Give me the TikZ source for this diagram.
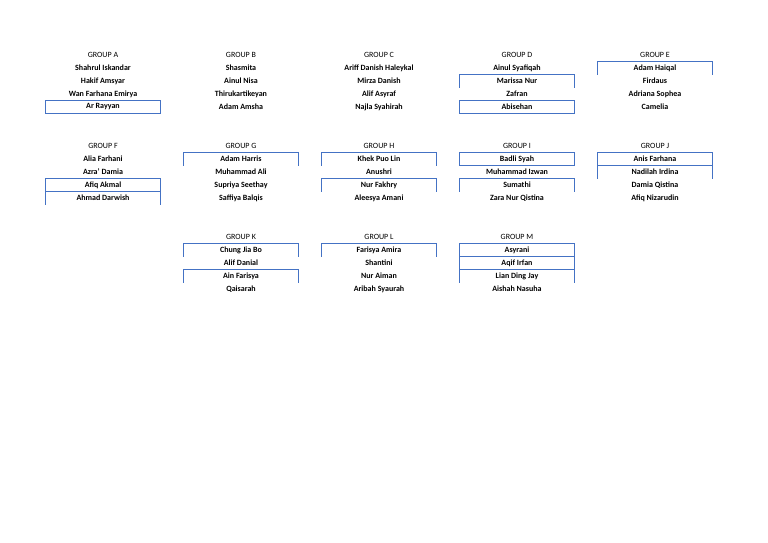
\documentclass[tikz,border=0pt]{standalone}
\usepackage{fontspec}
\setmainfont{Carlito}
\tikzset{
  group head/.style={font=\fontsize{8}{9}\selectfont, inner sep=0pt},
  name cell/.style={font=\bfseries\fontsize{8}{9}\selectfont, minimum width=115pt, minimum height=13pt, inner sep=0pt},
  cell border/.style={draw=cellblue, line width=0.8pt},
  full/.style={cell border},
}
\definecolor{cellblue}{HTML}{4472C4}
% one group: id, x, y of header, letter, four names
\newcommand{\groupcol}[8]{%
  \node[group head] (#1h) at (#2,#3) {GROUP #4};
  \node[name cell] (#11) at (#2,#3+13) {#5};
  \node[name cell] (#12) at (#2,#3+26) {#6};
  \node[name cell] (#13) at (#2,#3+39) {#7};
  \node[name cell] (#14) at (#2,#3+52) {#8};
}
\newcommand{\topsides}[1]{\draw[cell border] (#1.south west) -- (#1.north west) -- (#1.north east) -- (#1.south east);}
\newcommand{\fullbox}[1]{\draw[cell border] (#1.south west) rectangle (#1.north east);}
\newcommand{\sidesonly}[1]{\draw[cell border] (#1.south west) -- (#1.north west) (#1.north east) -- (#1.south east);}
\begin{document}
\begin{tikzpicture}[x=1pt,y=-1pt]
\useasboundingbox (0,0) rectangle (768,543);
\groupcol{a}{103}{55}{A}{Shahrul Iskandar}{Hakif Amsyar}{Wan Farhana Emirya}{Ar Rayyan}
\groupcol{b}{241}{55}{B}{Shasmita}{Ainul Nisa}{Thirukartikeyan}{Adam Amsha}
\groupcol{c}{379}{55}{C}{Ariff Danish Haleykal}{Mirza Danish}{Alif Asyraf}{Najla Syahirah}
\groupcol{d}{517}{55}{D}{Ainul Syafiqah}{Marissa Nur}{Zafran}{Abisehan}
\groupcol{e}{655}{55}{E}{Adam Haiqal}{Firdaus}{Adriana Sophea}{Camelia}
\groupcol{f}{103}{146}{F}{Alia Farhani}{Azra' Damia}{Afiq Akmal}{Ahmad Darwish}
\groupcol{g}{241}{146}{G}{Adam Harris}{Muhammad Ali}{Supriya Seethay}{Saffiya Balqis}
\groupcol{h}{379}{146}{H}{Khek Puo Lin}{Anushri}{Nur Fakhry}{Aleesya Amani}
\groupcol{i}{517}{146}{I}{Badli Syah}{Muhammad Izwan}{Sumathi}{Zara Nur Qistina}
\groupcol{j}{655}{146}{J}{Anis Farhana}{Nadilah Irdina}{Damia Qistina}{Afiq Nizarudin}
\groupcol{k}{241}{237}{K}{Chung Jia Bo}{Alif Danial}{Ain Farisya}{Qaisarah}
\groupcol{l}{379}{237}{L}{Farisya Amira}{Shantini}{Nur Aiman}{Aribah Syaurah}
\groupcol{m}{517}{237}{M}{Asyrani}{Aqif Irfan}{Lian Ding Jay}{Aishah Nasuha}
% cell borders
\fullbox{a4}
\topsides{d2} \fullbox{d4}
\topsides{e1}
\fullbox{f3} \sidesonly{f4}
\topsides{g1}
\topsides{h1} \topsides{h3}
\fullbox{i1} \topsides{i3}
\fullbox{j1} \sidesonly{j2}
\topsides{k1} \topsides{k3}
\topsides{l1}
\fullbox{m1} \topsides{m2} \topsides{m3}
\end{tikzpicture}
\end{document}
